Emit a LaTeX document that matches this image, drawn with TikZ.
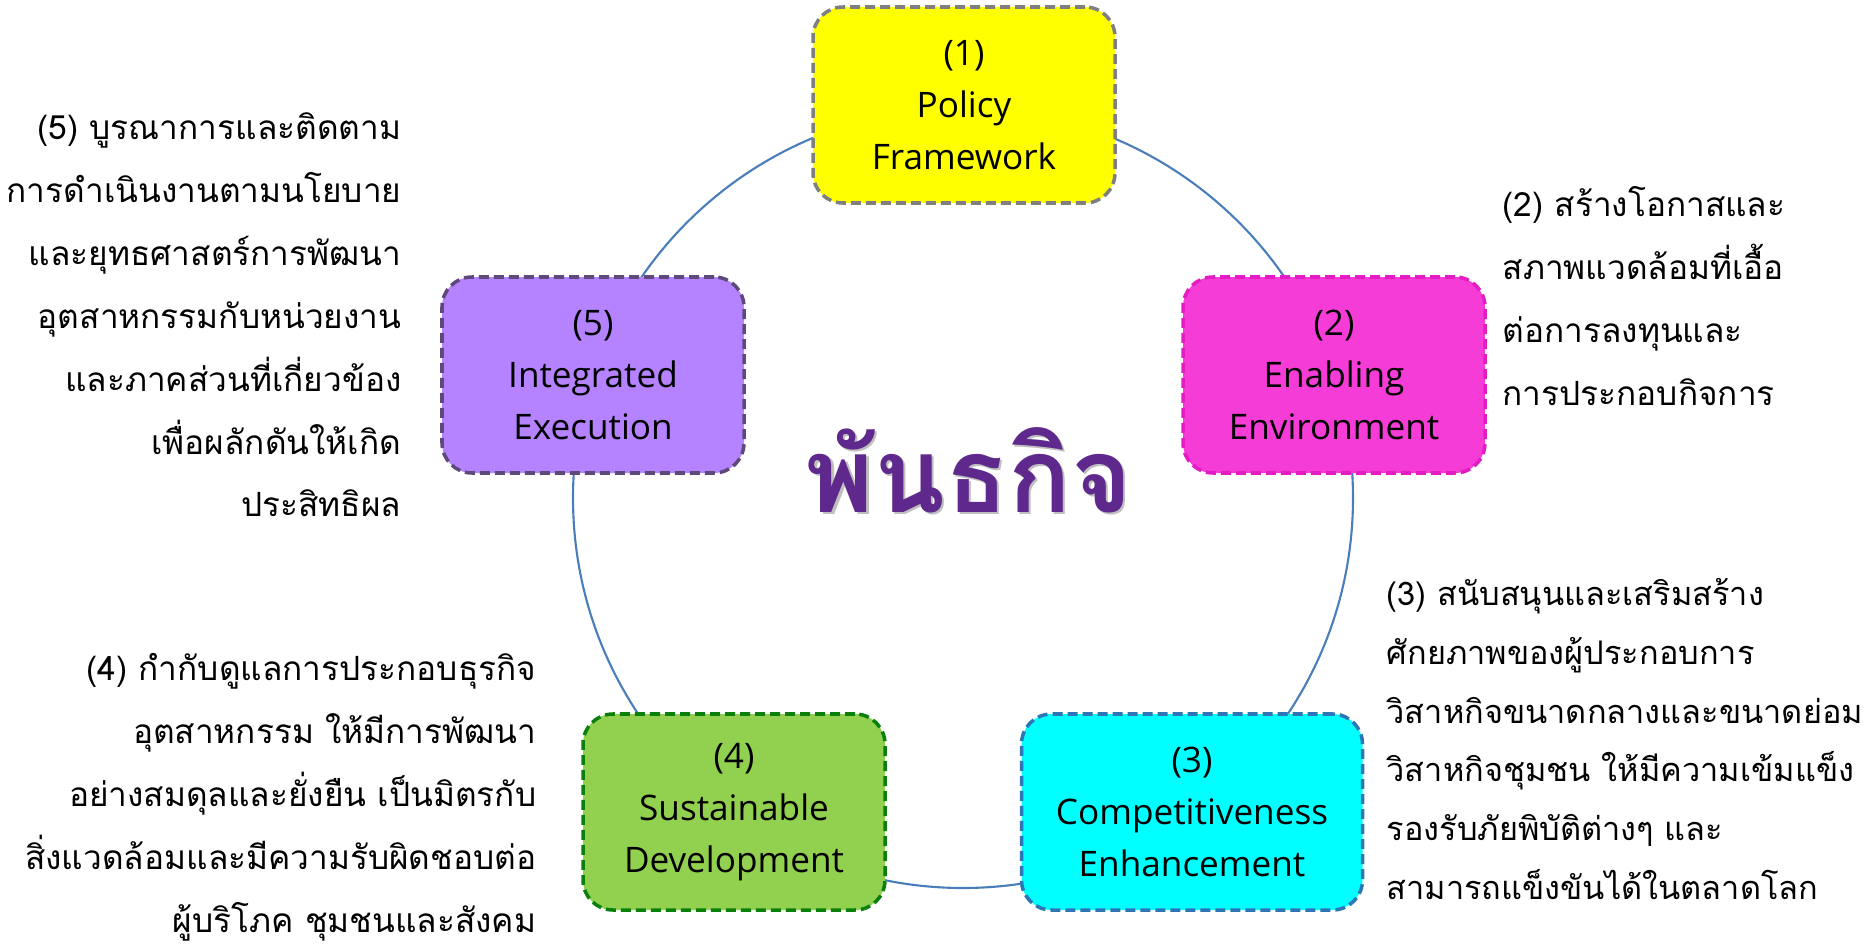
\documentclass[tikz,border=0pt]{standalone}
\usepackage{fontspec}
\setmainfont{Open Sans}
\newfontfamily\thaifont[Script=Thai]{Loma}
\usepackage{tikz}
\usetikzlibrary{positioning}

\definecolor{boxyellow}{RGB}{255,255,0}
\definecolor{edgegray}{RGB}{127,127,127}
\definecolor{boxpink}{RGB}{245,60,214}
\definecolor{edgepink}{RGB}{228,28,196}
\definecolor{boxcyan}{RGB}{0,255,255}
\definecolor{edgeblue}{RGB}{46,117,182}
\definecolor{boxgreen}{RGB}{146,208,80}
\definecolor{edgegreen}{RGB}{10,128,10}
\definecolor{boxviolet}{RGB}{181,131,255}
\definecolor{edgeviolet}{RGB}{95,73,122}
\definecolor{ringblue}{RGB}{74,126,187}
\definecolor{titleviolet}{RGB}{95,40,140}

\begin{document}
\begin{tikzpicture}[
	goalbox/.style={rectangle, rounded corners=0.3cm, line width=1pt,
		dash pattern=on 0.1cm off 0.05cm, minimum width=3.02cm,
		minimum height=1.96cm, align=center, inner sep=0pt,
		font=\fontsize{10}{14.8}\selectfont},
	thaitext/.style={inner sep=0pt,
		font=\thaifont\fontsize{9.5}{17.9}\selectfont},
	titletext/.style={anchor=base,
		font=\thaifont\bfseries\fontsize{29.5}{30}\selectfont}]
	\useasboundingbox (0,0) rectangle (18.68,-9.50);

	\coordinate (centre) at (9.63,-4.98);
	\draw[ringblue, line width=0.6pt] (centre) circle (3.9);

	\node[goalbox, fill=boxyellow, draw=edgegray] (g1) at (9.64,-1.05) {(1)\\Policy\\Framework};
	\node[goalbox, fill=boxpink, draw=edgepink] (g2) at (13.34,-3.75) {(2)\\Enabling\\Environment};
	\node[goalbox, fill=boxcyan, draw=edgeblue, minimum width=3.41cm] (g3) at (11.92,-8.12) {(3)\\Competitiveness\\Enhancement};
	\node[goalbox, fill=boxgreen, draw=edgegreen] (g4) at (7.34,-8.12) {(4)\\Sustainable\\Development};
	\node[goalbox, fill=boxviolet, draw=edgeviolet] (g5) at (5.93,-3.75) {(5)\\Integrated\\Execution};

	\node[titletext, text=black!25] (titleshadow) at (9.715,-5.145) {พันธกิจ};
	\node[titletext, text=titleviolet] (title) at (9.69,-5.12) {พันธกิจ};

	\node[thaitext, align=right, anchor=north east] (t5) at (4.02,-1.12) {(5) บูรณาการและติดตาม\\การดำเนินงานตามนโยบาย\\และยุทธศาสตร์การพัฒนา\\อุตสาหกรรมกับหน่วยงาน\\และภาคส่วนที่เกี่ยวข้อง\\เพื่อผลักดันให้เกิด\\ประสิทธิผล};
	\node[thaitext, align=left, anchor=north west] (t2) at (15.02,-1.86) {(2) สร้างโอกาสและ\\สภาพแวดล้อมที่เอื้อ\\ต่อการลงทุนและ\\การประกอบกิจการ};
	\node[thaitext, align=left, anchor=north west, font=\thaifont\fontsize{9.25}{16.7}\selectfont] (t3) at (13.86,-5.78) {(3) สนับสนุนและเสริมสร้าง\\ศักยภาพของผู้ประกอบการ\\วิสาหกิจขนาดกลางและขนาดย่อม\\วิสาหกิจชุมชน ให้มีความเข้มแข็ง\\รองรับภัยพิบัติต่างๆ และ\\สามารถแข็งขันได้ในตลาดโลก};
	\node[thaitext, align=right, anchor=north east] (t4) at (5.37,-6.53) {(4) กำกับดูแลการประกอบธุรกิจ\\อุตสาหกรรม ให้มีการพัฒนา\\อย่างสมดุลและยั่งยืน เป็นมิตรกับ\\สิ่งแวดล้อมและมีความรับผิดชอบต่อ\\ผู้บริโภค ชุมชนและสังคม};
\end{tikzpicture}
\end{document}
